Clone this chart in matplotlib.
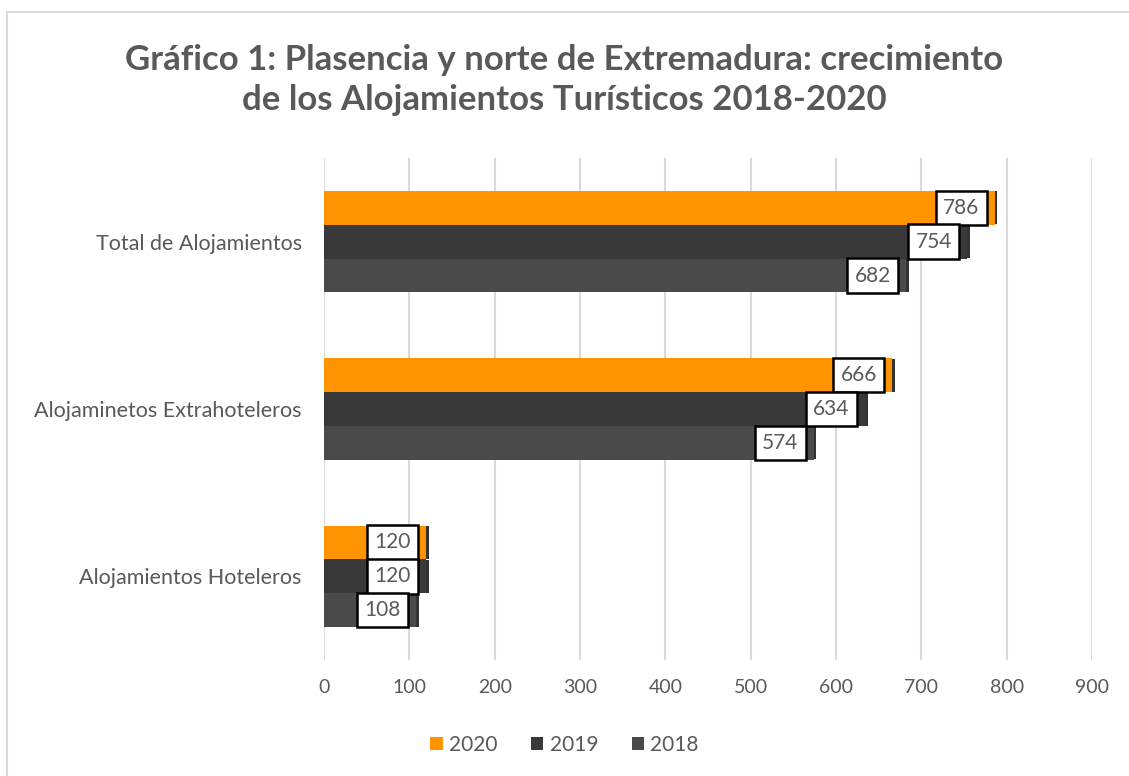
import numpy as np
import matplotlib.pyplot as plt
from matplotlib.patches import Rectangle

plt.rcParams['font.family'] = ['Lato', 'DejaVu Sans']

categorias = ['Alojamientos Hoteleros', 'Alojaminetos Extrahoteleros', 'Total de Alojamientos']
anios = ['2020', '2019', '2018']
v2020 = [120, 666, 786]
v2019 = [120, 634, 754]
v2018 = [108, 574, 682]
colores = ['#ff9300', '#393939', '#4a4a4a']
gris = '#595959'

fig = plt.figure(figsize=(11.29, 7.76), dpi=100)
ax = fig.add_axes([324 / 1129, 1 - 660 / 776, 768 / 1129, 502 / 776])

# marco del grafico
fig.patches.append(Rectangle((7 / 1129, -0.05), 1.1, 1 - 12 / 776 + 0.05, transform=fig.transFigure,
                             fill=False, edgecolor='#d9d9d9', linewidth=1.5))

y = np.arange(len(categorias))
h = 0.2024
series = [v2020, v2019, v2018]
for i, (serie, col, lab) in enumerate(zip(series, colores, anios)):
    pos = y + h * (1 - i)
    # sombra
    ax.barh(pos, serie, height=h * 0.98, left=3, color='#333333', zorder=2)
    ax.barh(pos, serie, height=h, color=col, label=lab, zorder=3)
    for p, v in zip(pos, serie):
        ax.annotate(str(v), xy=(v, p), xytext=(-11, 0), textcoords='offset points',
                    ha='right', va='center', fontsize=15, color=gris, zorder=5,
                    bbox=dict(boxstyle='square,pad=0.35', fc='white', ec='black', lw=1.8))

ax.set_xlim(0, 900)
ax.set_ylim(-0.5, 2.5)
ax.set_xticks(range(0, 901, 100))
ax.set_yticks(y)
ax.set_yticklabels(categorias, fontsize=15.5)
ax.tick_params(axis='both', length=0, labelcolor=gris)
ax.tick_params(axis='x', pad=14, labelsize=14)
ax.tick_params(axis='y', pad=16)
ax.grid(axis='x', color='#d9d9d9', linewidth=1.5, zorder=0)
for s in ax.spines.values():
    s.set_visible(False)

fig.text(0.5, 1 - 80 / 776, 'Gráfico 1: Plasencia y norte de Extremadura: crecimiento\nde los Alojamientos Turísticos 2018-2020',
         ha='center', va='center', fontsize=25, fontweight='bold', color=gris, linespacing=1.3)

leg = fig.legend(loc='center', bbox_to_anchor=(0.5, 1 - 745 / 776), ncol=3, frameon=False,
                 fontsize=15, handlelength=0.6, handleheight=0.6, handletextpad=0.3, columnspacing=1.6)
for t in leg.get_texts():
    t.set_color(gris)

fig.savefig('out.png', dpi=100)
